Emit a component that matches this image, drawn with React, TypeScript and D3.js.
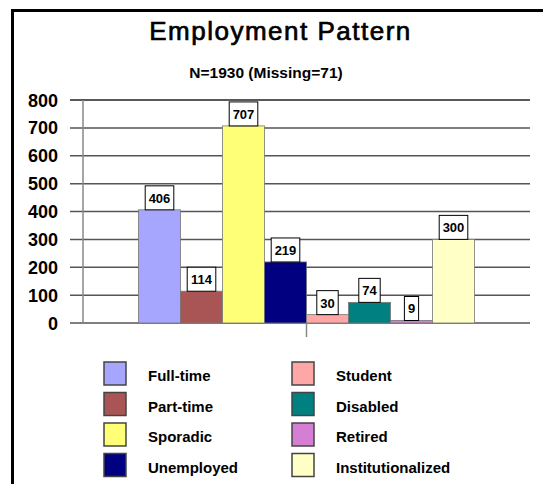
import React from "react";
import * as d3 from "d3";

const categories = [
  "Full-time",
  "Part-time",
  "Sporadic",
  "Unemployed",
  "Student",
  "Disabled",
  "Retired",
  "Institutionalized",
];
const counts = [406, 114, 707, 219, 30, 74, 9, 300];
const colors = [
  "#a6a6ff",
  "#aa5555",
  "#ffff77",
  "#000080",
  "#ffa6a6",
  "#008080",
  "#d47fd4",
  "#ffffc6",
];
const yTicks = [0, 100, 200, 300, 400, 500, 600, 700, 800];

const W = 543;
const H = 484;
const FONT = "'Liberation Sans', Arial, sans-serif";

const App = () => {
  const plotLeft = 83;
  const plotRight = 530;
  const barW = 42;
  const start = (plotLeft + plotRight) / 2 - (barW * categories.length) / 2;

  const x = d3
    .scaleBand()
    .domain(categories)
    .range([start, start + barW * categories.length])
    .padding(0);

  const y = d3.scaleLinear().domain([0, 800]).range([323, 100]);

  // legend: two columns of four
  const legendRows = [0, 1, 2, 3];

  return (
    <svg
      width={W}
      height={H}
      style={{ position: "absolute", left: 0, top: 0, display: "block", background: "#fff" }}
      fontFamily={FONT}
    >
      {/* frame */}
      <line x1={11} x2={W} y1={10.5} y2={10.5} stroke="#000" strokeWidth={3} />
      <line x1={12.5} x2={12.5} y1={9} y2={H} stroke="#000" strokeWidth={3} />

      <text
        x={280.5}
        y={40}
        textAnchor="middle"
        fontSize={26}
        letterSpacing={1.5}
        fill="#000"
        stroke="#000"
        strokeWidth={0.7}
      >
        Employment Pattern
      </text>
      <text x={266} y={78} textAnchor="middle" fontSize={15.5} fontWeight="bold" fill="#000">
        N=1930 (Missing=71)
      </text>

      {/* gridlines + y ticks */}
      {yTicks.map((t) => (
        <g key={t}>
          <line
            x1={70}
            x2={plotRight}
            y1={y(t)}
            y2={y(t)}
            stroke={t === 800 ? "#222" : "#555"}
            strokeWidth={1.5}
          />
          <text
            x={58}
            y={y(t) + 6.5}
            textAnchor="end"
            fontSize={18}
            fontWeight="bold"
            fill="#000"
          >
            {t}
          </text>
        </g>
      ))}
      <line x1={plotLeft} x2={plotLeft} y1={y(800)} y2={y(0)} stroke="#888" strokeWidth={1.5} />
      <line
        x1={(plotLeft + plotRight) / 2}
        x2={(plotLeft + plotRight) / 2}
        y1={y(0)}
        y2={y(0) + 14}
        stroke="#888"
        strokeWidth={1.5}
      />

      {/* bars */}
      {categories.map((c, i) => (
        <rect
          key={c}
          x={x(c)}
          y={y(counts[i])}
          width={x.bandwidth()}
          height={y(0) - y(counts[i])}
          fill={colors[i]}
          stroke="#777"
          strokeWidth={0.8}
        />
      ))}

      {/* value boxes */}
      {categories.map((c, i) => {
        const label = String(counts[i]);
        const bw = label.length * 7.2 + 7;
        const cx = (x(c) as number) + x.bandwidth() / 2;
        const top = y(counts[i]) - 24;
        return (
          <g key={c + "-lbl"}>
            <rect x={cx - bw / 2} y={top} width={bw} height={24} fill="#fff" stroke="#000" strokeWidth={1} />
            <text x={cx} y={top + 17} textAnchor="middle" fontSize={13} fontWeight="bold" fill="#000">
              {label}
            </text>
          </g>
        );
      })}

      {/* legend */}
      {legendRows.map((r) =>
        [0, 1].map((col) => {
          const i = col * 4 + r;
          const sx = col === 0 ? 104 : 292;
          const sy = 362 + r * 30.5;
          return (
            <g key={categories[i] + "-leg"}>
              <rect x={sx} y={sy} width={22} height={23} fill={colors[i]} stroke="#444" strokeWidth={1.5} />
              <text x={sx + 44} y={sy + 19} fontSize={15} fontWeight="bold" fill="#000">
                {categories[i]}
              </text>
            </g>
          );
        })
      )}
    </svg>
  );
};

export default App;
